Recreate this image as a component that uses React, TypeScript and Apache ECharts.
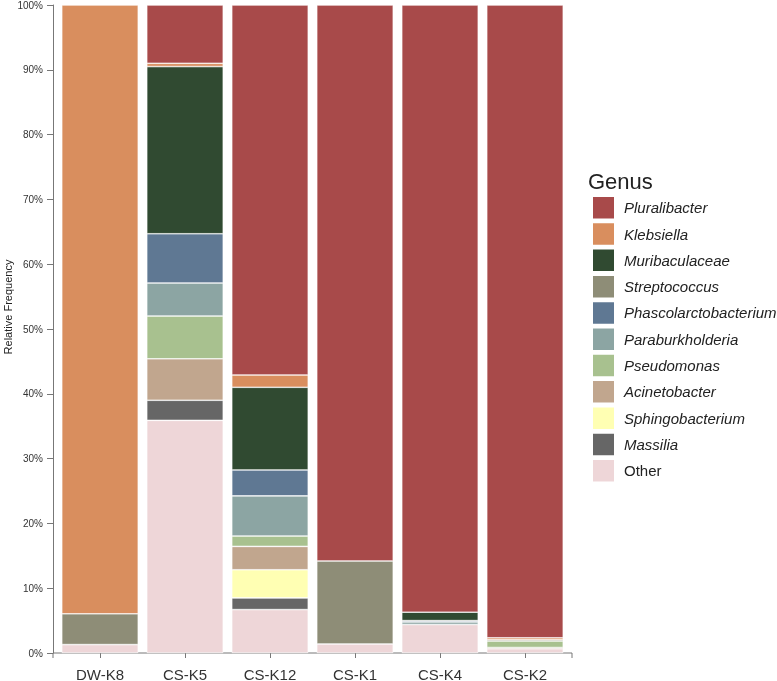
import React, { useEffect, useRef } from "react";
import * as echarts from "echarts";

const categories = ["DW-K8", "CS-K5", "CS-K12", "CS-K1", "CS-K4", "CS-K2"];

// legend order (top to bottom); stacked bottom-up in reverse
const genera = [
  "Pluralibacter",
  "Klebsiella",
  "Muribaculaceae",
  "Streptococcus",
  "Phascolarctobacterium",
  "Paraburkholderia",
  "Pseudomonas",
  "Acinetobacter",
  "Sphingobacterium",
  "Massilia",
  "Other",
];

const colors = [
  "#A84A4A",
  "#D98E5E",
  "#304A31",
  "#8E8D77",
  "#5F7893",
  "#8CA5A3",
  "#A8C18F",
  "#C1A68E",
  "#FFFFB3",
  "#666666",
  "#EED6D8",
];

const pluralibacter = [0, 9.0, 57.1, 85.8, 93.7, 97.65];
const klebsiella = [93.95, 0.5, 1.9, 0, 0, 0.3];
const muribaculaceae = [0, 25.8, 12.75, 0, 1.3, 0];
const streptococcus = [4.75, 0, 0, 12.8, 0, 0.2];
const phascolarctobacterium = [0, 7.6, 4.0, 0, 0.2, 0];
const paraburkholderia = [0, 5.1, 6.2, 0, 0.4, 0];
const pseudomonas = [0, 6.6, 1.6, 0, 0, 1.0];
const acinetobacter = [0, 6.4, 3.6, 0, 0, 0.2];
const sphingobacterium = [0, 0, 4.35, 0, 0, 0];
const massilia = [0, 3.1, 1.8, 0, 0, 0];
const other = [1.3, 35.9, 6.7, 1.4, 4.4, 0.65];

const values = [
  pluralibacter,
  klebsiella,
  muribaculaceae,
  streptococcus,
  phascolarctobacterium,
  paraburkholderia,
  pseudomonas,
  acinetobacter,
  sphingobacterium,
  massilia,
  other,
];

const yTicks = [0, 10, 20, 30, 40, 50, 60, 70, 80, 90, 100];

const FONT = "'Liberation Sans', Arial, sans-serif";

export default function App() {
  const ref = useRef<HTMLDivElement>(null);

  useEffect(() => {
    if (!ref.current) return;
    const chart = echarts.init(ref.current, undefined, { renderer: "svg" });

    const order = genera.map((_, i) => i).reverse(); // bottom-up
    const series = order.map((i) => ({
      name: genera[i],
      type: "bar",
      stack: "total",
      barCategoryGap: "10%",
      itemStyle: { color: colors[i], borderColor: "#ffffff", borderWidth: 0.6 },
      emphasis: { disabled: true },
      data: values[i].map((v) => (v === 0 ? null : v)),
    }));

    chart.setOption({
      animation: false,
      textStyle: { fontFamily: FONT },
      grid: {
        left: 57.5,
        top: 5,
        width: 510,
        height: 648,
        containLabel: false,
        outerBoundsMode: "none",
      },
      xAxis: {
        type: "category",
        data: categories,
        axisLine: { show: false },
        axisTick: { show: true, alignWithLabel: true, length: 5, lineStyle: { color: "#777" } },
        axisLabel: { fontSize: 15, lineHeight: 14, color: "#333", margin: 14, fontFamily: FONT },
      },
      yAxis: {
        type: "value",
        min: yTicks[0],
        max: yTicks[yTicks.length - 1],
        interval: 10,
        offset: 4.5,
        splitLine: { show: false },
        axisLine: { show: true, lineStyle: { color: "#777" } },
        axisTick: { show: true, length: 6, lineStyle: { color: "#777" } },
        axisLabel: { fontSize: 10, color: "#333", margin: 10, formatter: "{value}%", fontFamily: FONT },
      },
      legend: {
        orient: "vertical",
        left: 591,
        top: 195,
        padding: 0,
        itemWidth: 23,
        itemHeight: 23.5,
        itemGap: 0.8,
        icon: "rect",
        selectedMode: false,
        textStyle: { fontSize: 15, color: "#222", fontFamily: FONT, padding: [0, 0, 0, 4] },
        data: genera.map((g) => ({
          name: g,
          textStyle: { fontStyle: g === "Other" ? "normal" : "italic" },
        })),
      },
      graphic: [
        {
          type: "polyline",
          shape: { points: [[53, 658], [53, 653], [572, 653], [572, 658]] },
          style: { stroke: "#777", lineWidth: 1, fill: "none" },
          silent: true,
        },
        {
          type: "text",
          x: 8,
          y: 307,
          rotation: Math.PI / 2,
          style: {
            text: "Relative Frequency",
            fontSize: 11,
            fontFamily: FONT,
            fill: "#222",
            align: "center",
            verticalAlign: "middle",
          },
        },
        {
          type: "text",
          x: 588,
          y: 181,
          style: {
            text: "Genus",
            fontSize: 22,
            fontFamily: FONT,
            fill: "#222",
            align: "left",
            verticalAlign: "middle",
          },
        },
      ],
      series,
    });

    return () => chart.dispose();
  }, []);

  return (
    <div
      ref={ref}
      style={{ position: "fixed", left: 0, top: 0, width: 777, height: 681 }}
    />
  );
}
